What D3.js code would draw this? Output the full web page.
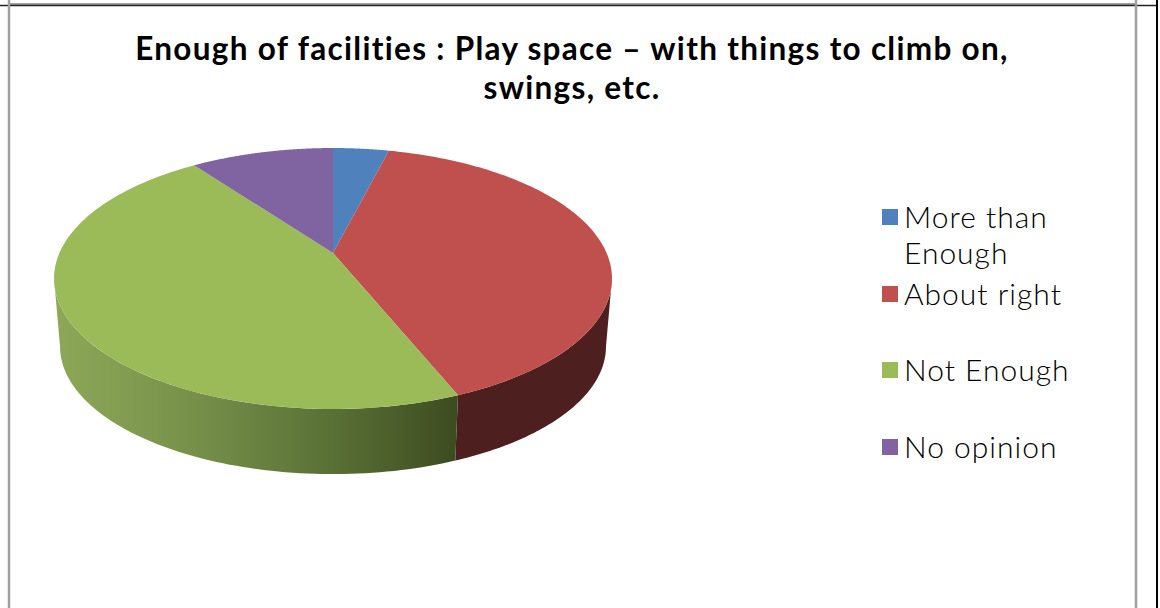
<!DOCTYPE html>
<html><head><meta charset="utf-8">
<script src="https://cdn.jsdelivr.net/npm/d3@7"></script>
<style>html,body{margin:0;padding:0;background:#fff;overflow:hidden}svg{display:block}</style>
</head><body><svg id="c" width="1160" height="608"></svg>
<script>
const categories = ["More than Enough","About right","Not Enough","No opinion"];
const legendLines = [["More than","Enough"],["About right"],["Not Enough"],["No opinion"]];
const values = [3.9,40,46.1,10];
const colors = ["#4f81bd","#c0504d","#9bbb59","#8064a2"];
const titleLines = ["Enough of facilities : Play space – with things to climb on,","swings, etc."];
const svg = d3.select("#c");
const W=1160,H=608;
// page frame
const frame=[[9,4,1136,4,"#a0a0a0",2],[0,5.5,1157,5.5,"#222",1.5],[9,0,9,H,"#a0a0a0",2.5],[1136,0,1136,H,"#a0a0a0",2.5],[1157,0,1157,H,"#000",2]];
svg.selectAll("line.f").data(frame).join("line").attr("class","f")
 .attr("x1",d=>d[0]).attr("y1",d=>d[1]).attr("x2",d=>d[2]).attr("y2",d=>d[3]).attr("stroke",d=>d[4]).attr("stroke-width",d=>d[5]);
// title
svg.selectAll("text.t").data(titleLines).join("text").attr("class","t")
 .attr("x",572).attr("y",(d,i)=>60+i*39).attr("text-anchor","middle")
 .attr("font-family","Lato").attr("font-weight",700).attr("font-size",31.5).attr("fill","#000")
 .style("font-variant-ligatures","none").style("letter-spacing","1.3px").text(d=>d);
// perspective pie: plane coords (u,v) on unit circle
const p=0.1954;
const sx=d3.scaleLinear().domain([-1,1]).range([333-273.6,333+273.6]);
const sy=d3.scaleLinear().domain([-1,1]).range([253+125.5,253-125.5]);
const topPt=t=>{const u=Math.sin(t),v=Math.cos(t),w=1+p*v;return [sx(u/w),sy(v/w)];};
const s=0.9785,d0=68.5;
const botPt=t=>{const [x,y]=topPt(t);return [333+(x-333)*s,253+(y-253)*s+d0];};
const arcs=d3.pie().sort(null).value(d=>d)(values);
const rim=(f,a,b,n)=>d3.range(n+1).map(i=>f(a+(b-a)*i/n));
const line=d3.line();
const tA=Math.PI/2+Math.asin(p), tB=2*Math.PI-tA;
// gradients
const defs=svg.append("defs");
const g=defs.append("linearGradient").attr("id","gs").attr("gradientUnits","userSpaceOnUse").attr("x1",54).attr("x2",458).attr("y1",0).attr("y2",0);
[[0,"#8ea858"],[0.35,"#76904a"],[0.7,"#586f35"],[1,"#3d4b20"]].forEach(d=>g.append("stop").attr("offset",d[0]).attr("stop-color",d[1]));
const sideFill={1:"#4d1f1e",2:"url(#gs)"};
svg.selectAll("path.side").data(arcs.filter(a=>a.index==1||a.index==2)).join("path").attr("class","side")
 .attr("fill",d=>sideFill[d.index])
 .attr("d",d=>{const a=Math.max(d.startAngle,tA),b=Math.min(d.endAngle,tB);
   return line(rim(topPt,a,b,80).concat(rim(botPt,b,a,80)))+"Z";});
svg.selectAll("path.top").data(arcs).join("path").attr("class","top")
 .attr("fill",d=>colors[d.index])
 .attr("d",d=>line([[333,253]].concat(rim(topPt,d.startAngle,d.endAngle,120)))+"Z");
// legend
const ly=[217,294,370,447];
const lg=svg.selectAll("g.l").data(categories).join("g").attr("class","l").attr("transform",(d,i)=>`translate(882,${ly[i]})`);
lg.append("rect").attr("x",0).attr("y",-8).attr("width",16).attr("height",16).attr("fill",(d,i)=>colors[i]);
lg.each(function(d,i){d3.select(this).selectAll("text").data(legendLines[i]).join("text")
 .attr("x",22).attr("y",(t,j)=>11+j*36).attr("font-family","Lato").attr("font-weight",300).attr("font-size",30).attr("fill","#000")
 .style("letter-spacing","1px").text(t=>t);});
</script></body></html>
